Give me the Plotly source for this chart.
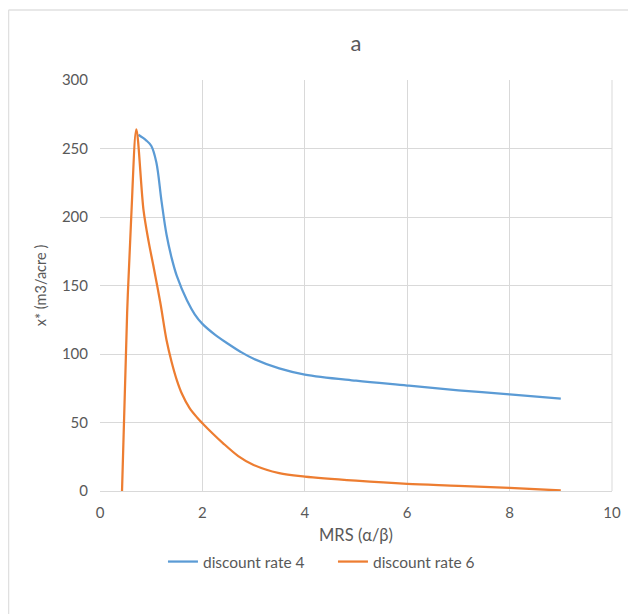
import plotly.graph_objects as go

# Data
mrs_r4 = [0.75, 0.9, 1.0, 1.1, 1.2, 1.3, 1.4, 1.5, 1.7, 1.85, 2.0, 2.25, 2.5, 2.75, 3.0, 3.5, 4.0, 5.0, 6.0, 7.0, 8.0, 9.0]
x_r4 = [260, 256, 252, 240, 212, 187, 170, 157, 139, 129, 122, 114, 107.5, 101.5, 96.5, 89.5, 85, 80.5, 77, 73.5, 70.5, 67.5]

mrs_r6 = [0.43, 0.53, 0.61, 0.71, 0.85, 0.95, 1.05, 1.18, 1.3, 1.4, 1.5, 1.6, 1.75, 1.9, 2.0, 2.2, 2.4, 2.7, 3.0, 3.5, 4.0, 5.0, 6.0, 7.0, 8.0, 9.0]
x_r6 = [0, 130, 200, 264, 205, 182, 163, 137, 110, 94, 81, 71, 60.5, 53.5, 49.5, 42, 35, 25.5, 19, 13, 10.5, 7.5, 5.2, 3.8, 2.2, 0.4]

x_ticks = [0, 2, 4, 6, 8, 10]
y_ticks = [0, 50, 100, 150, 200, 250, 300]

FONT = "Lato, 'Open Sans', sans-serif"
GRAY = "#595959"
GRID = "#d9d9d9"

fig = go.Figure()
fig.add_trace(go.Scatter(x=mrs_r4, y=x_r4, mode="lines", name="discount rate 4",
                         line=dict(color="#5B9BD5", width=2.25, shape="spline", smoothing=1.0)))
fig.add_trace(go.Scatter(x=mrs_r6, y=x_r6, mode="lines", name="discount rate 6",
                         line=dict(color="#ED7D31", width=2.25, shape="spline", smoothing=0.9)))

fig.update_layout(
    width=628, height=606,
    margin=dict(l=92, r=24, t=72, b=123),
    paper_bgcolor="white", plot_bgcolor="white",
    font=dict(family=FONT, color=GRAY, size=13),
    title=dict(text="a", x=0.5, xanchor="center", xref="paper", y=1 - 35 / 606, yanchor="middle",
               font=dict(size=22, color=GRAY, family=FONT)),
    xaxis=dict(range=[0, 10], tickvals=x_ticks, showgrid=True, gridcolor=GRID, gridwidth=1,
               zeroline=False, showline=True, linecolor=GRID, linewidth=1, ticks="",
               ticklabelstandoff=8,
               tickfont=dict(size=15, color=GRAY),
               title=dict(text="MRS (α/β)", font=dict(size=16.5, color=GRAY), standoff=9)),
    yaxis=dict(range=[0, 300], tickvals=y_ticks, showgrid=True, gridcolor=GRID, gridwidth=1,
               zeroline=False, showline=False, ticks="",
               ticklabelstandoff=11,
               tickfont=dict(size=15, color=GRAY),
               title=dict(text="x* (m3/acre )", font=dict(size=14.5, color=GRAY), standoff=11)),
    legend=dict(orientation="h", x=0.455, xanchor="center", y=-0.1727, yanchor="middle",
                font=dict(size=15.5, color=GRAY), itemwidth=30, tracegroupgap=0,
                entrywidth=125, entrywidthmode="pixels"),
    showlegend=True,
)

# outer chart frame (light border)
fig.add_shape(type="line", xref="paper", yref="paper", x0=-0.1787, x1=1.06, y0=1.1703, y1=1.1703,
              line=dict(color="#e0e0e0", width=1.5))
fig.add_shape(type="line", xref="paper", yref="paper", x0=-0.1787, x1=-0.1787, y0=1.1703, y1=-0.32,
              line=dict(color="#e0e0e0", width=1.5))
# right border of plot area
fig.add_shape(type="line", xref="paper", yref="paper", x0=1, x1=1, y0=0, y1=1,
              line=dict(color=GRID, width=1), layer="below")

fig.write_html("out.html")
